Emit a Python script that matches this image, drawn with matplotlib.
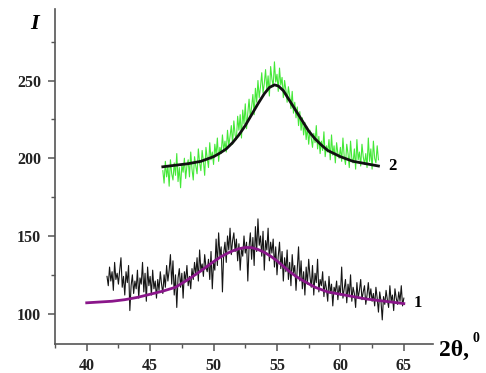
import numpy as np
import matplotlib
matplotlib.use("Agg")
import matplotlib.pyplot as plt
from matplotlib.ticker import MultipleLocator

# smooth fit, curve 1 (purple)
fit1_x = [40, 41, 42, 43, 44, 45, 46, 47, 48, 49, 49.5, 50, 50.5, 51, 51.5, 52, 52.5, 53,
          53.5, 54, 54.5, 55, 55.5, 56, 56.5, 57, 58, 59, 60, 61, 62, 63, 64, 65]
fit1_y = [107, 107.5, 108, 109, 110.5, 112.5, 114.5, 117, 122, 127.5, 130.5, 133.5, 136.2, 138.5, 140.4, 141.8, 142.6, 142.5,
          141.3, 139.5, 137, 134, 130.5, 127, 124, 121.5, 117, 114, 112.5, 111, 109.5, 108.5, 107.5, 106.5]

# smooth fit, curve 2 (black)
fit2_x = [46, 47, 48, 49, 50, 50.5, 51, 51.5, 52, 52.5, 53, 53.5, 54, 54.4, 54.8, 55.1, 55.5,
          56, 56.5, 57, 57.5, 58, 58.5, 59, 60, 61, 62, 63]
fit2_y = [194.5, 195.5, 196.5, 198, 201, 203.3, 206, 210, 215, 221, 228, 235, 241.5, 245.5, 247.2, 246.5, 243.5,
          237, 230.5, 224, 217.5, 212.5, 208.5, 205, 201, 198, 196.5, 195]

# measured pattern 1 (black noise), 41.6 .. 65.0 step 0.1
raw1_y = [124, 118, 130, 121, 127, 115, 133, 122, 126, 119,
          128, 136, 117, 124, 112, 127, 120, 131, 102, 118,
          125, 113, 121, 116, 128, 110, 123, 119, 133, 114,
          126, 108, 130, 118, 124, 112, 128, 116, 121, 110,
          122, 115, 127, 119, 113, 125, 117, 131, 121, 128,
          138, 119, 134, 112, 125, 104, 123, 129, 117, 126,
          110, 127, 121, 131, 118, 124, 116, 129, 122, 133,
          125, 136, 121, 141, 128, 132, 124, 138, 130, 127,
          135, 122, 140, 116, 133, 128, 148, 131, 152, 137,
          143, 114, 139, 146, 133, 150, 141, 155, 138, 147,
          152, 140, 148, 134, 145, 128, 142, 137, 150, 139,
          146, 121, 143, 152, 135, 149, 131, 156, 140, 161,
          144, 150, 137, 153, 128, 147, 141, 155, 134, 146,
          139, 148, 130, 143, 125, 137, 146, 129, 140, 121,
          136, 127, 141, 122, 133, 118, 138, 126, 131, 115,
          129, 143, 121, 134, 116, 127, 112, 130, 119, 135,
          124, 117, 131, 112, 126, 120, 135, 114, 122, 118,
          127, 111, 121, 116, 108, 124, 113, 119, 105, 117,
          114, 121, 109, 118, 112, 130, 110, 116, 122, 107,
          119, 112, 125, 108, 117, 113, 104, 120, 110, 115,
          122, 109, 114, 118, 106, 112, 120, 110, 116, 108,
          113, 105, 117, 110, 101, 114, 108, 96, 111, 106,
          115, 109, 104, 118, 108, 112, 102, 116, 110, 106,
          114, 108, 118, 105, 110]
raw1_x = np.linspace(41.6, 65.0, len(raw1_y))

# measured pattern 2 (green noise), 46.0 .. 63.0 step 0.1
raw2_y = [192, 184, 198, 188, 195, 182, 199, 190, 186, 197,
          189, 203, 185, 194, 181, 196, 191, 200, 187, 195,
          199, 188, 204, 193, 186, 201, 195, 190, 206, 197,
          192, 205, 198, 189, 207, 200, 194, 210, 199, 204,
          196, 209, 202, 213, 198, 207, 203, 215, 205, 211,
          204, 218, 208, 214, 221, 209, 224, 215, 212, 227,
          218, 228, 213, 231, 222, 235, 219, 229, 238, 226,
          233, 241, 228, 245, 236, 250, 239, 246, 255, 242,
          248, 257, 244, 253, 240, 259, 251, 246, 262, 249,
          254, 243, 258, 247, 252, 239, 250, 244, 236, 246,
          240, 232, 243, 229, 236, 226, 233, 221, 230, 218,
          226, 215, 223, 212, 220, 209, 218, 213, 207, 216,
          210, 221, 206, 214, 203, 211, 205, 217, 201, 208,
          204, 212, 199, 215, 202, 208, 197, 210, 203, 200,
          207, 198, 213, 201, 196, 209, 203, 194, 211, 200,
          197, 206, 193, 212, 199, 204, 195, 209, 201, 196,
          203, 194, 213, 198, 206, 193, 211, 200, 197, 208,
          199]
raw2_x = np.linspace(46.0, 63.0, len(raw2_y))

serif = "Liberation Serif"

fig = plt.figure(figsize=(4.86, 3.73), dpi=100)
ax = fig.add_axes([55 / 486, 29 / 373, 378 / 486, 335 / 373])

ax.plot(raw2_x, raw2_y, color="#44e838", lw=0.8)
ax.plot(fit2_x, fit2_y, color="#111111", lw=2.0)
ax.plot(raw1_x, raw1_y, color="#151515", lw=0.8)
ax.plot(fit1_x, fit1_y, color="#8a168a", lw=2.0)

ax.set_xlim(37.5, 67.3)
ax.set_ylim(80.5, 296)

ax.spines["top"].set_visible(False)
ax.spines["right"].set_visible(False)
for s in ["left", "bottom"]:
    ax.spines[s].set_color("#555555")
    ax.spines[s].set_linewidth(1.2)

ax.xaxis.set_minor_locator(MultipleLocator(2.5))
ax.set_xticks(range(40, 66, 5))
ax.yaxis.set_minor_locator(MultipleLocator(25))
ax.set_yticks([100, 150, 200, 250])
ax.tick_params(which="major", direction="out", length=5, width=1.1, color="#555555", pad=5)
ax.tick_params(which="minor", direction="out", length=3, width=1.0, color="#555555")
for lab in ax.get_xticklabels() + ax.get_yticklabels():
    lab.set_fontfamily(serif)
    lab.set_fontweight("bold")
    lab.set_fontsize(11.5)
    lab.set_color("#222222")

ax.text(63.8, 195, "2", fontfamily=serif, fontweight="bold", fontsize=12, va="center")
ax.text(65.8, 107, "1", fontfamily=serif, fontweight="bold", fontsize=12, va="center")

fig.text(35 / 486, 1 - 24 / 373, "I", fontfamily=serif, fontweight="bold", style="italic",
         fontsize=16, ha="center", va="center")
fig.text(439 / 486, 1 - 350 / 373, "2θ,", fontfamily=serif, fontweight="bold",
         fontsize=17, ha="left", va="center")
fig.text(472 / 486, 1 - 339 / 373, "0", fontfamily=serif, fontweight="bold",
         fontsize=10, ha="left", va="center")

fig.savefig("out.png", dpi=100)
